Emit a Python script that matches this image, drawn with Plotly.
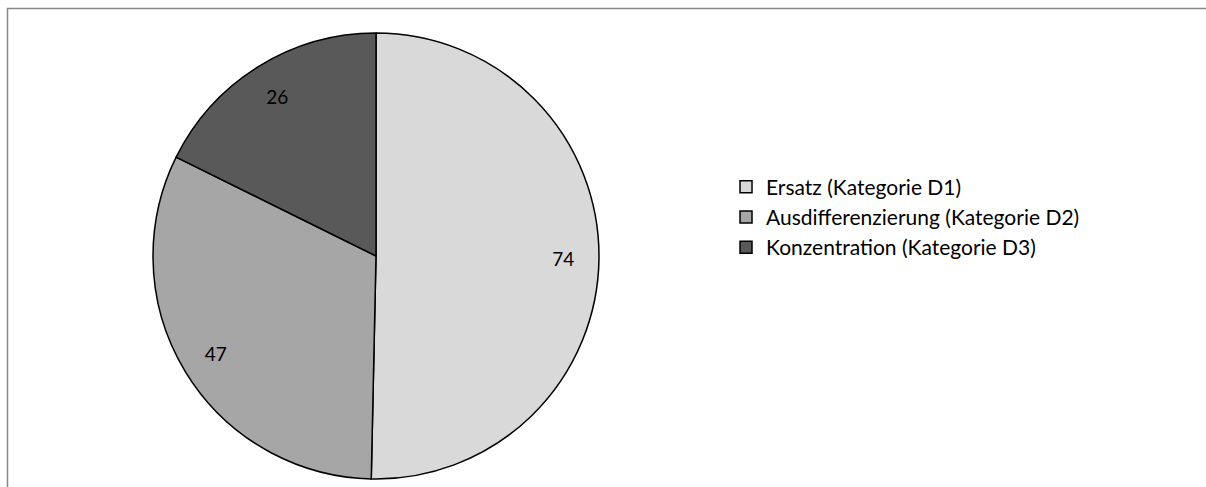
import plotly.graph_objects as go

labels = ["Ersatz (Kategorie D1)", "Ausdifferenzierung (Kategorie D2)", "Konzentration (Kategorie D3)"]
values = [74, 47, 26]
colors = ["#d9d9d9", "#a6a6a6", "#595959"]

W, H = 1206, 487
dom = dict(x=[152 / W, 600 / W], y=[8 / H, 454 / H])

fig = go.Figure()

# filled pie with legend
fig.add_trace(go.Pie(
    labels=labels, values=values, sort=False, direction="clockwise", rotation=0,
    textinfo="none",
    marker=dict(colors=colors, line=dict(color="black", width=1.5)),
    domain=dom,
    hoverinfo="label+value",
))

# transparent ring on top, only to put the value labels near the rim
fig.add_trace(go.Pie(
    labels=labels, values=values, sort=False, direction="clockwise", rotation=0,
    hole=0.68,
    textinfo="value", textposition="inside", insidetextorientation="horizontal",
    textfont=dict(size=19, color="black"),
    marker=dict(colors=["rgba(0,0,0,0)"] * 3, line=dict(width=0)),
    domain=dom, showlegend=False, hoverinfo="skip",
))

fig.update_layout(
    width=W, height=H,
    margin=dict(l=0, r=0, t=0, b=0),
    paper_bgcolor="white",
    font=dict(family="Lato, Noto Sans, sans-serif", size=19, color="black"),
    legend=dict(x=0.602, y=1 - 217 / H, xanchor="left", yanchor="middle",
                font=dict(size=21), bgcolor="rgba(0,0,0,0)"),
    shapes=[dict(type="rect", xref="paper", yref="paper",
                 x0=7.5 / W, x1=1.05, y0=-0.05, y1=1 - 8.5 / H,
                 line=dict(color="#888888", width=1.5))],
)

fig.write_html("out.html", config={"displayModeBar": False},
               post_script="document.body.style.margin='0px';")
